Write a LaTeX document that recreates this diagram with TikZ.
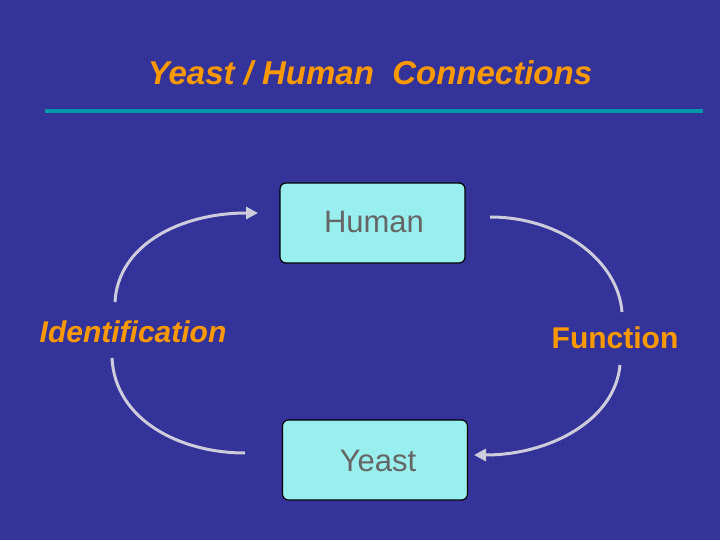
\documentclass[tikz,border=0pt]{standalone}
\usepackage{fontspec}
\setmainfont{Liberation Sans}
\usetikzlibrary{arrows.meta}
\definecolor{slidebg}{HTML}{333399}
\definecolor{titleorange}{HTML}{FF9900}
\definecolor{ruleteal}{HTML}{0099AA}
\definecolor{boxcyan}{HTML}{99EEEE}
\definecolor{arcgray}{HTML}{CCCCDD}
\tikzset{
  organism/.style={draw=black, line width=1.2pt, fill=boxcyan, rounded corners=6pt,
    minimum width=185pt, minimum height=80pt},
  stepword/.style={text=titleorange, font=\bfseries\fontsize{30}{34}\selectfont},
  cycle/.style={draw=arcgray, line width=3pt},
  organismtext/.style={text=gray!90!black, font=\fontsize{31}{35}\selectfont}
}
\begin{document}
\begin{tikzpicture}[x=1pt, y=-1pt]
  \fill[slidebg] (0,0) rectangle (720,540);
  \useasboundingbox (0,0) rectangle (720,540);
  % title
  \node (title) at (370,73) [text=titleorange, font=\bfseries\itshape\fontsize{33}{38}\selectfont] {Yeast / Human\ \ Connections};
  \coordinate (ruleL) at (45,111);
  \coordinate (ruleR) at (703,111);
  \draw[ruleteal, line width=4pt] (ruleL) -- (ruleR);
  % boxes
  \node (Human) at (372.5,223) [organism] {};
  \node (Yeast) at (375,460) [organism] {};
  \node (HumanT) at (374,222) [organismtext] {\textcolor{black!60}{Human}};
  \node (YeastT) at (378,461) [organismtext] {\textcolor{black!60}{Yeast}};
  % steps
  \node (Ident) at (133,332) [stepword, font=\bfseries\itshape\fontsize{30}{34}\selectfont] {Identification};
  \node (Func) at (615,338) [stepword] {Function};
  % arcs
  \coordinate (a1) at (115,302);
  \coordinate (a2) at (258,213);
  \coordinate (b1) at (112,358);
  \coordinate (b2) at (245,453);
  \coordinate (c1) at (490,217);
  \coordinate (c2) at (622,312);
  \coordinate (d1) at (620,365);
  \coordinate (d2) at (474,455);
  \draw[cycle, -{Triangle[length=12pt,width=12pt]}] (a1) .. controls (118,245) and (180,213) .. (a2);
  \draw[cycle] (b1) .. controls (115,420) and (180,453) .. (b2);
  \draw[cycle] (c1) .. controls (560,217) and (618,260) .. (c2);
  \draw[cycle, -{Triangle[length=12pt,width=12pt]}] (d1) .. controls (615,420) and (550,455) .. (d2);
\end{tikzpicture}
\end{document}
